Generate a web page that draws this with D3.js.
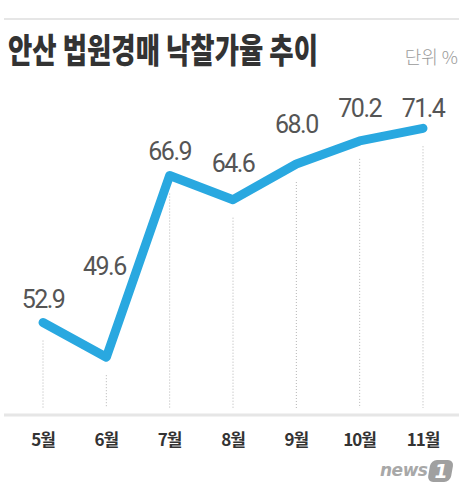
<!DOCTYPE html>
<html>
<head>
<meta charset="utf-8">
<script src="https://cdn.jsdelivr.net/npm/d3@7"></script>
<style>
  body { margin: 0; background: #fff; }
  svg { display: block; }
</style>
</head>
<body>
<div id="chart"></div>
<script>
// data
const months = ["5월", "6월", "7월", "8월", "9월", "10월", "11월"];
const rates = [52.9, 49.6, 66.9, 64.6, 68.0, 70.2, 71.4];

// label nudges (layout only)
const labelDy = [-15, -82, -16, -28, -31, -24, -11];

const width = 464;
const height = 501;

const svg = d3.select("#chart")
  .append("svg")
  .attr("width", width)
  .attr("height", height);

const x = d3.scalePoint()
  .domain(months)
  .range([43, 423]);

const y = d3.scaleLinear()
  .domain([40, 80])
  .range([458, 38]);

// top rule + baseline
svg.append("line")
  .attr("x1", 4).attr("x2", 459)
  .attr("y1", 19).attr("y2", 19)
  .attr("stroke", "#e6e6e6")
  .attr("stroke-width", 2);

svg.append("line")
  .attr("x1", 4).attr("x2", 459)
  .attr("y1", 415).attr("y2", 415)
  .attr("stroke", "#e6e6e6")
  .attr("stroke-width", 3);

// title
svg.append("text")
  .attr("x", 8)
  .attr("y", 63)
  .attr("textLength", 310)
  .attr("lengthAdjust", "spacingAndGlyphs")
  .style("font-family", "'Noto Sans CJK KR', sans-serif")
  .style("font-weight", 900)
  .style("font-size", "34px")
  .attr("fill", "#333")
  .text("안산 법원경매 낙찰가율 추이");

svg.append("text")
  .attr("x", 458)
  .attr("y", 64)
  .attr("text-anchor", "end")
  .style("font-family", "'Noto Sans CJK KR', sans-serif")
  .style("font-weight", 300)
  .style("font-size", "18px")
  .attr("fill", "#9a9a9a")
  .text("단위 %");

const data = months.map((m, i) => ({ month: m, rate: rates[i], dy: labelDy[i] }));

// dotted drop lines
svg.selectAll(".drop")
  .data(data)
  .enter()
  .append("line")
  .attr("class", "drop")
  .attr("x1", d => x(d.month))
  .attr("x2", d => x(d.month))
  .attr("y1", d => y(d.rate) + 18)
  .attr("y2", 408)
  .attr("stroke", "#b5b5b5")
  .attr("stroke-width", 1)
  .attr("stroke-dasharray", "1,2");

// the line
svg.append("path")
  .datum(data)
  .attr("fill", "none")
  .attr("stroke", "#29a8e0")
  .attr("stroke-width", 9)
  .attr("stroke-linecap", "round")
  .attr("stroke-linejoin", "round")
  .attr("d", d3.line()
    .x(d => x(d.month))
    .y(d => y(d.rate))
  );

// value labels
svg.selectAll(".val")
  .data(data)
  .enter()
  .append("text")
  .attr("class", "val")
  .attr("x", d => x(d.month) - (d.month === "6월" ? 2 : 0))
  .attr("y", d => y(d.rate) + d.dy)
  .attr("text-anchor", "middle")
  .style("font-family", "Roboto, sans-serif")
  .style("font-size", "25px")
  .style("letter-spacing", "-1.5px")
  .attr("fill", "#555")
  .text(d => d.rate.toFixed(1));

// month labels
svg.selectAll(".month")
  .data(data)
  .enter()
  .append("text")
  .attr("class", "month")
  .attr("x", d => x(d.month))
  .attr("y", 446)
  .attr("text-anchor", "middle")
  .style("font-family", "'Noto Sans CJK KR', sans-serif")
  .style("font-weight", 700)
  .style("font-size", "17px")
  .style("letter-spacing", "-1px")
  .attr("fill", "#333")
  .text(d => d.month);

// news1 mark
const logo = svg.append("g").attr("transform", "translate(380,460)");
logo.append("text")
  .attr("x", 0)
  .attr("y", 16)
  .style("font-family", "'DejaVu Sans', sans-serif")
  .style("font-weight", 700)
  .style("font-style", "italic")
  .style("font-size", "17px")
  .style("letter-spacing", "-0.5px")
  .attr("fill", "#a8a8a8")
  .text("news");
logo.append("rect")
  .attr("x", 51).attr("y", 0)
  .attr("width", 23).attr("height", 22)
  .attr("rx", 6)
  .attr("transform", "skewX(-10)")
  .attr("fill", "#a0a0a0");
logo.append("text")
  .attr("x", 61)
  .attr("y", 18)
  .attr("text-anchor", "middle")
  .style("font-family", "'DejaVu Sans', sans-serif")
  .style("font-weight", 700)
  .style("font-style", "italic")
  .style("font-size", "19px")
  .attr("fill", "#fff")
  .text("1");
</script>
</body>
</html>
